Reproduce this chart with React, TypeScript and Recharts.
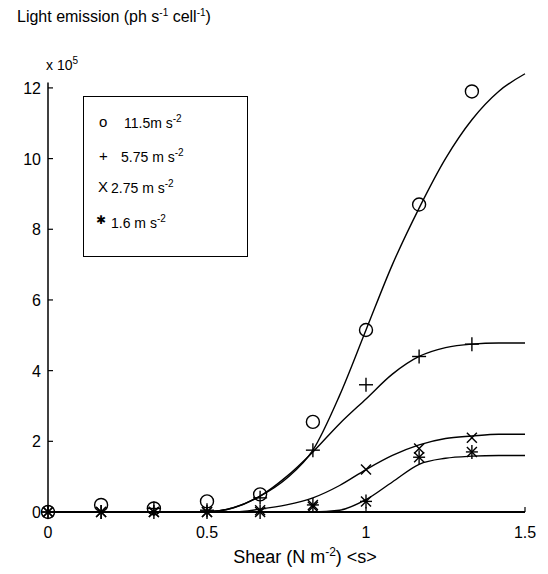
import { ComposedChart, Line, ReferenceLine, Scatter, XAxis, YAxis } from "recharts";

// measured data (shear in N m^-2, light emission in 10^5 ph s^-1 cell^-1)
const SHEAR = [0, 0.167, 0.333, 0.5, 0.667, 0.833, 1.0, 1.167, 1.333];
const ACC_115 = [0, 0.2, 0.1, 0.3, 0.5, 2.55, 5.15, 8.7, 11.9];
const ACC_575 = [0, 0, 0.1, 0.05, 0.4, 1.75, 3.6, 4.4, 4.75];
const ACC_275 = [0, 0, 0, 0, 0.05, 0.15, 1.2, 1.8, 2.1];
const ACC_16 = [0, 0, 0, 0, 0, 0.2, 0.3, 1.55, 1.7];

// fitted curves
const FIT_X = [0, 0.5, 0.583, 0.667, 0.75, 0.833, 0.917, 1.0, 1.083, 1.167, 1.25, 1.333, 1.417, 1.5];
const FIT_115 = [0, 0.01, 0.12, 0.45, 0.95, 1.75, 3.3, 5.15, 7.0, 8.6, 10.0, 11.1, 11.9, 12.4];
const FIT_575 = [0, 0.01, 0.12, 0.45, 1.0, 1.7, 2.5, 3.2, 3.9, 4.4, 4.65, 4.75, 4.78, 4.78];
const FIT_275 = [0, 0, 0, 0.08, 0.2, 0.4, 0.75, 1.2, 1.6, 1.9, 2.08, 2.15, 2.2, 2.2];
const FIT_16 = [0, 0, 0, 0, 0, 0, 0.05, 0.35, 0.85, 1.35, 1.52, 1.58, 1.6, 1.6];

const X_TICKS = [0, 0.5, 1, 1.5];
const Y_TICKS = [0, 2, 4, 6, 8, 10, 12];
const Y_AXIS_TOP = 12.15;

const W = 548;
const H = 574;
const PLOT_LEFT = 48;
const PLOT_BOTTOM = 512;
const FONT = "'Liberation Sans', Arial, sans-serif";

const pts = (xs: number[], ys: number[]) => xs.map((x, i) => ({ x, y: ys[i] }));

const Circle = (p: any) => (
	<circle cx={p.cx} cy={p.cy} r={6.5} fill="none" stroke="#000" strokeWidth={1.4} />
);
const Plus = (p: any) => (
	<g stroke="#000" strokeWidth={1.4}>
		<line x1={p.cx - 7} y1={p.cy} x2={p.cx + 7} y2={p.cy} />
		<line x1={p.cx} y1={p.cy - 7} x2={p.cx} y2={p.cy + 7} />
	</g>
);
const Cross = (p: any) => (
	<g stroke="#000" strokeWidth={1.4}>
		<line x1={p.cx - 5} y1={p.cy - 5} x2={p.cx + 5} y2={p.cy + 5} />
		<line x1={p.cx - 5} y1={p.cy + 5} x2={p.cx + 5} y2={p.cy - 5} />
	</g>
);
const Star = (p: any) => (
	<g stroke="#000" strokeWidth={1.4}>
		<line x1={p.cx - 6} y1={p.cy} x2={p.cx + 6} y2={p.cy} />
		<line x1={p.cx} y1={p.cy - 7} x2={p.cx} y2={p.cy + 7} />
		<line x1={p.cx - 5} y1={p.cy - 5} x2={p.cx + 5} y2={p.cy + 5} />
		<line x1={p.cx - 5} y1={p.cy + 5} x2={p.cx + 5} y2={p.cy - 5} />
	</g>
);

const YTick = (p: any) => {
	const y = p.payload.coordinate;
	return (
		<g>
			<line x1={PLOT_LEFT} y1={y} x2={PLOT_LEFT + 5} y2={y} stroke="#000" strokeWidth={1.2} />
			<text x={PLOT_LEFT - 7} y={y + 6} textAnchor="end" fontSize={16} fontFamily={FONT} fill="#000">
				{p.payload.value}
			</text>
		</g>
	);
};

const XTick = (p: any) => {
	const x = p.payload.coordinate;
	return (
		<g>
			<line x1={x} y1={PLOT_BOTTOM} x2={x} y2={PLOT_BOTTOM - 5} stroke="#000" strokeWidth={1.2} />
			<text x={x} y={PLOT_BOTTOM + 26} textAnchor="middle" fontSize={16} fontFamily={FONT} fill="#000">
				{p.payload.value}
			</text>
		</g>
	);
};

const fits = [FIT_115, FIT_575, FIT_275, FIT_16];
const series = [
	{ ys: ACC_115, shape: Circle },
	{ ys: ACC_575, shape: Plus },
	{ ys: ACC_275, shape: Cross },
	{ ys: ACC_16, shape: Star },
];

const legendRows = [
	{ sym: "o", text: "11.5m s", top: 113, symLeft: 99, textLeft: 124 },
	{ sym: "+", text: "5.75 m s", top: 147, symLeft: 99, textLeft: 121 },
	{ sym: "X", text: "2.75 m s", top: 178, symLeft: 98, textLeft: 111 },
	{ sym: "✱", text: "1.6 m s", top: 213, symLeft: 96, textLeft: 111 },
];

export default function App() {
	return (
		<div style={{ position: "absolute", left: 0, top: 0, width: W, height: H, background: "#fff", fontFamily: FONT, color: "#000" }}>
			<ComposedChart width={W} height={H} margin={{ top: 72, right: 23, bottom: 32, left: 8 }}>
				<XAxis
					dataKey="x"
					type="number"
					domain={[0, 1.5]}
					ticks={X_TICKS}
					height={30}
					axisLine={{ stroke: "#000", strokeWidth: 1.8 }}
					tickLine={false}
					tick={<XTick />}
				/>
				<YAxis
					dataKey="y"
					type="number"
					domain={[0, 12.45]}
					ticks={Y_TICKS}
					width={40}
					axisLine={false}
					tickLine={false}
					tick={<YTick />}
				/>
				<ReferenceLine
					segment={[
						{ x: 0, y: 0 },
						{ x: 0, y: Y_AXIS_TOP },
					]}
					stroke="#000"
					strokeWidth={1.5}
				/>
				{fits.map((f, i) => (
					<Line
						key={`fit${i}`}
						data={pts(FIT_X, f)}
						dataKey="y"
						type="monotone"
						stroke="#000"
						strokeWidth={1.4}
						dot={false}
						activeDot={false}
						isAnimationActive={false}
					/>
				))}
				{series.map((s, i) => (
					<Scatter
						key={`pts${i}`}
						data={pts(SHEAR, s.ys)}
						dataKey="y"
						shape={s.shape}
						isAnimationActive={false}
					/>
				))}
			</ComposedChart>
			<div style={{ position: "absolute", left: 17, top: 7, fontSize: 16, whiteSpace: "nowrap" }}>
				Light emission (ph s<sup style={{ fontSize: 10 }}>-1</sup> cell<sup style={{ fontSize: 10 }}>-1</sup>)
			</div>
			<div style={{ position: "absolute", left: 46, top: 55, fontSize: 14, whiteSpace: "nowrap" }}>
				x 10<sup style={{ fontSize: 10 }}>5</sup>
			</div>
			<div style={{ position: "absolute", left: 83, top: 96, width: 163, height: 159, border: "1.5px solid #000" }} />
			{legendRows.map((r) => (
				<div key={r.text} style={{ position: "absolute", top: r.top, left: 0, fontSize: 14, whiteSpace: "nowrap" }}>
					<span style={{ position: "absolute", left: r.symLeft, fontSize: r.sym === "✱" ? 12 : 15 }}>{r.sym}</span>
					<span style={{ position: "absolute", left: r.textLeft }}>
						{r.text}
						<sup style={{ fontSize: 10 }}>-2</sup>
					</span>
				</div>
			))}
			<div style={{ position: "absolute", left: 0, width: 610, top: 545, textAlign: "center", fontSize: 18, whiteSpace: "nowrap" }}>
				Shear (N m<sup style={{ fontSize: 12 }}>-2</sup>) &lt;s&gt;
			</div>
		</div>
	);
}
